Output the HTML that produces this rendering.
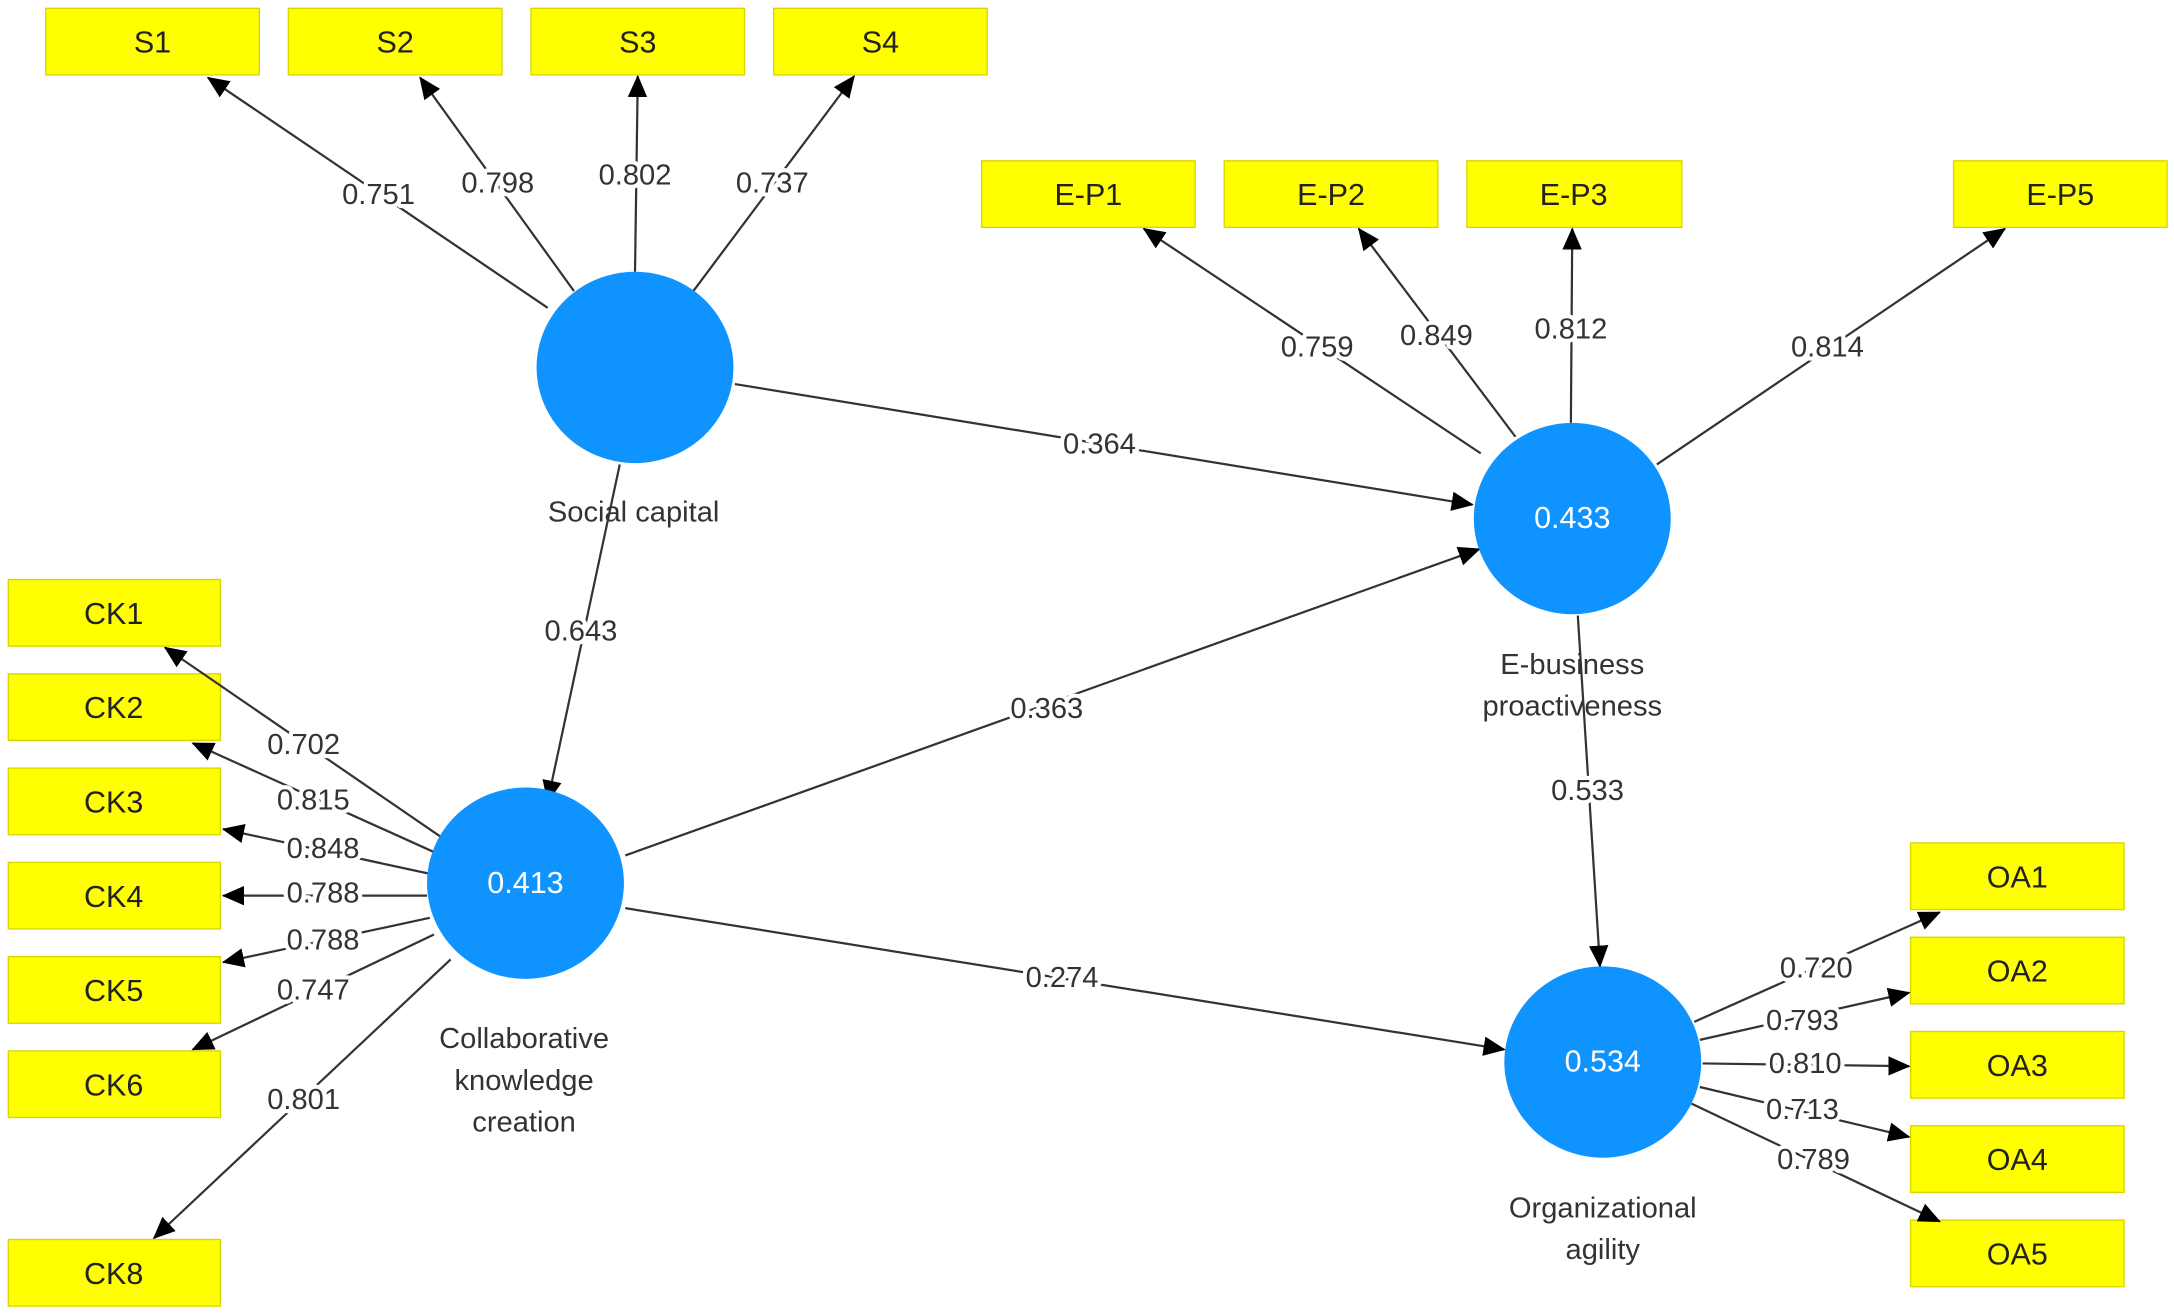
<!DOCTYPE html>
<html><head><meta charset="utf-8"><style>html,body{margin:0;padding:0;background:#fff}svg{display:block}</style></head>
<body>
<svg width="2174" height="1313" viewBox="0 0 1568 947" xmlns="http://www.w3.org/2000/svg" font-family="'Liberation Sans', 'DejaVu Sans', sans-serif">
<defs>
<marker id="a" markerUnits="userSpaceOnUse" markerWidth="16" markerHeight="16" viewBox="0 0 16 16" refX="15" refY="8" orient="auto"><path d="M0,1 L16,8 L0,15 Z" fill="#000"/></marker>
</defs>
<g fill="#ffff00" stroke="#d8d800" stroke-width="1">
<rect x="33" y="6" width="154" height="48"/><rect x="208" y="6" width="154" height="48"/><rect x="383" y="6" width="154" height="48"/><rect x="558" y="6" width="154" height="48"/>
<rect x="708" y="116" width="154" height="48"/><rect x="883" y="116" width="154" height="48"/><rect x="1058" y="116" width="155" height="48"/><rect x="1409" y="116" width="154" height="48"/>
<rect x="6" y="418" width="153" height="48"/><rect x="6" y="486" width="153" height="48"/><rect x="6" y="554" width="153" height="48"/><rect x="6" y="622" width="153" height="48"/><rect x="6" y="690" width="153" height="48"/><rect x="6" y="758" width="153" height="48"/><rect x="6" y="894" width="153" height="48"/>
<rect x="1378" y="608" width="154" height="48"/><rect x="1378" y="676" width="154" height="48"/><rect x="1378" y="744" width="154" height="48"/><rect x="1378" y="812" width="154" height="48"/><rect x="1378" y="880" width="154" height="48"/>
</g>
<g font-size="22" fill="#222" text-anchor="middle">
<text x="110" y="38">S1</text><text x="285" y="38">S2</text><text x="460" y="38">S3</text><text x="635" y="38">S4</text>
<text x="785" y="148">E-P1</text><text x="960" y="148">E-P2</text><text x="1135" y="148">E-P3</text><text x="1486" y="148">E-P5</text>
<text x="82" y="450">CK1</text><text x="82" y="518">CK2</text><text x="82" y="586">CK3</text><text x="82" y="654">CK4</text><text x="82" y="722">CK5</text><text x="82" y="790">CK6</text><text x="82" y="926">CK8</text>
<text x="1455" y="640">OA1</text><text x="1455" y="708">OA2</text><text x="1455" y="776">OA3</text><text x="1455" y="844">OA4</text><text x="1455" y="912">OA5</text>
</g>
<g stroke="#333" stroke-width="1.6" fill="none" marker-end="url(#a)">
<line x1="395" y1="222" x2="150" y2="56"/><line x1="414" y1="210" x2="303" y2="56"/><line x1="458" y1="196" x2="460" y2="55"/><line x1="500" y1="210" x2="616" y2="55"/>
<line x1="1068" y1="327" x2="825" y2="165"/><line x1="1093" y1="315" x2="980" y2="165"/><line x1="1133" y1="305" x2="1134" y2="165"/><line x1="1195" y1="335" x2="1446" y2="165"/>
<line x1="530" y1="277" x2="1062" y2="364"/>
<line x1="447" y1="335" x2="395" y2="578"/>
<line x1="451" y1="617" x2="1067" y2="396"/>
<line x1="451" y1="655" x2="1085" y2="757"/>
<line x1="1138" y1="444" x2="1154" y2="697"/>
<line x1="320" y1="605" x2="119" y2="467"/><line x1="314" y1="615" x2="139" y2="536"/><line x1="309" y1="630" x2="161" y2="598"/><line x1="308" y1="646" x2="161" y2="646"/><line x1="310" y1="662" x2="161" y2="694"/><line x1="313" y1="674" x2="139" y2="757"/><line x1="325" y1="692" x2="111" y2="893"/>
<line x1="1222" y1="737" x2="1399" y2="658"/><line x1="1226" y1="750" x2="1377" y2="716"/><line x1="1228" y1="767" x2="1377" y2="769"/><line x1="1226" y1="784" x2="1377" y2="820"/><line x1="1220" y1="796" x2="1399" y2="881"/>
</g>
<g fill="#0f93ff">
<ellipse cx="458" cy="265" rx="71" ry="69"/><ellipse cx="1134" cy="374" rx="71" ry="69"/><ellipse cx="379" cy="637" rx="71" ry="69"/><ellipse cx="1156" cy="766" rx="71" ry="69"/>
</g>
<g font-size="22" fill="#fff" text-anchor="middle">
<text x="1134" y="374" dy="7">0.433</text><text x="379" y="637" dy="7">0.413</text><text x="1156" y="766" dy="7">0.534</text>
</g>
<g font-size="21" fill="#333" text-anchor="middle" stroke="#fff" stroke-width="6" paint-order="stroke" stroke-linejoin="round">
<text x="273" y="147">0.751</text><text x="359" y="139">0.798</text><text x="458" y="133">0.802</text><text x="557" y="139">0.737</text>
<text x="950" y="257">0.759</text><text x="1036" y="249">0.849</text><text x="1133" y="244">0.812</text><text x="1318" y="257">0.814</text>
<text x="793" y="327">0.364</text><text x="419" y="462">0.643</text><text x="755" y="518">0.363</text><text x="766" y="712">0.274</text><text x="1145" y="577">0.533</text>
<text x="219" y="544">0.702</text><text x="226" y="584">0.815</text><text x="233" y="619">0.848</text><text x="233" y="651">0.788</text><text x="233" y="685">0.788</text><text x="226" y="721">0.747</text><text x="219" y="800">0.801</text>
<text x="1310" y="705">0.720</text><text x="1300" y="743">0.793</text><text x="1302" y="774">0.810</text><text x="1300" y="807">0.713</text><text x="1308" y="843">0.789</text>
</g>
<g font-size="21" fill="#333" text-anchor="middle">
<text x="457" y="376">Social capital</text>
<text x="1134" y="486">E-business</text><text x="1134" y="516">proactiveness</text>
<text x="378" y="756">Collaborative</text><text x="378" y="786">knowledge</text><text x="378" y="816">creation</text>
<text x="1156" y="878">Organizational</text><text x="1156" y="908">agility</text>
</g>
</svg>
</body></html>
